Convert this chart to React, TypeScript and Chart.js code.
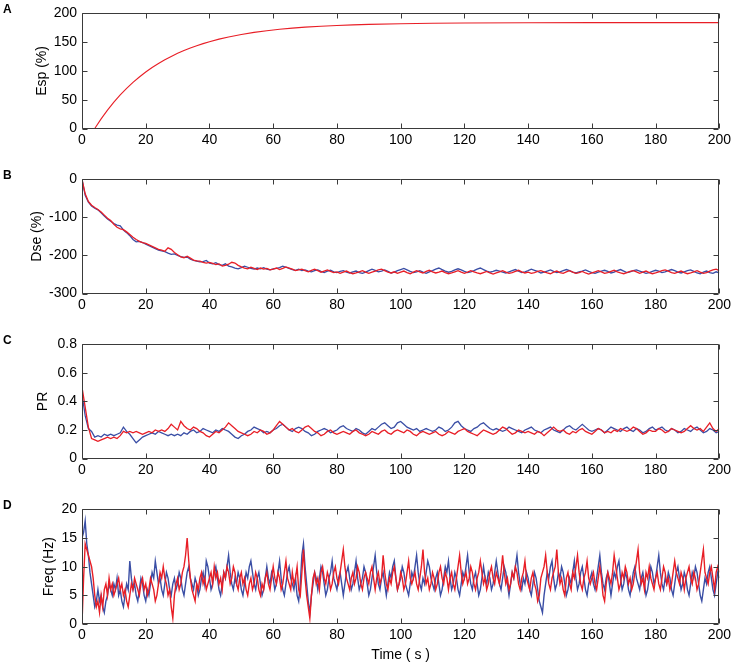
import React, { useEffect, useRef } from "react";
import { Chart, registerables } from "chart.js";

Chart.register(...registerables);

// ---------------- data ----------------
const TIME_TICKS = [0, 20, 40, 60, 80, 100, 120, 140, 160, 180, 200];
const TIME = Array.from({ length: 201 }, (_, i) => i);
const TIME_HALF = Array.from({ length: 401 }, (_, i) => i / 2);

// Panel A: Esp (%)
const ESP_T = [4, 6, 8, 10, 12, 14, 16, 18, 20, 22, 24, 26, 28, 30, 32, 34, 36, 38, 40, 43, 46, 50, 54, 58, 62, 66, 70, 75, 80, 85, 90, 100, 110, 120, 140, 160, 180, 200];
const ESP_RED = [0, 16.7, 31.9, 45.7, 58.3, 69.7, 80.1, 89.5, 98.1, 105.9, 113.0, 119.5, 125.3, 130.7, 135.5, 139.9, 143.9, 147.5, 150.9, 155.3, 159.1, 163.4, 167.0, 169.9, 172.4, 174.4, 176.1, 177.7, 179.1, 180.1, 180.9, 182.1, 182.8, 183.3, 183.7, 183.9, 184.0, 184.0];

// Panel B: Dse (%)
const DSE_BLUE = [
  0, -42, -60, -70, -76, -80, -88, -96, -104, -110,
  -116, -120, -122, -133, -140, -148, -158, -164, -163, -166,
  -170, -174, -178, -182, -186, -188, -190, -194, -197, -196,
  -200, -203, -205, -204, -210, -213, -215, -217, -216, -213,
  -220, -222, -219, -224, -226, -222, -228, -230, -233, -235,
  -232, -228, -231, -234, -236, -233, -235, -232, -236, -238,
  -235, -234, -232, -228, -231, -234, -237, -239, -236, -240,
  -238, -241, -243, -240, -238, -242, -245, -241, -239, -243,
  -245, -242, -240, -244, -246, -243, -241, -245, -247, -244,
  -240, -236, -239, -243, -241, -238, -242, -246, -244, -240,
  -237, -234, -238, -242, -245, -243, -240, -244, -247, -243,
  -240, -236, -233, -237, -241, -244, -242, -238, -235, -238,
  -242, -245, -243, -240, -236, -233, -237, -241, -244, -242,
  -239, -241, -244, -246, -243, -240, -237, -241, -245, -243,
  -240, -236, -239, -242, -246, -244, -241, -238, -242, -245,
  -243, -240, -237, -240, -244, -246, -243, -241, -238, -242,
  -245, -247, -244, -241, -239, -242, -246, -244, -240, -237,
  -241, -245, -243, -240, -238, -241, -244, -247, -245, -242,
  -239, -241, -245, -243, -240, -237, -240, -244, -246, -243,
  -240, -238, -242, -246, -248, -244, -241, -245, -247, -243,
  -246,
];
const DSE_RED = [
  0, -38, -58, -68, -74, -79, -86, -94, -102, -108,
  -118, -126, -130, -132, -138, -145, -152, -158, -163, -166,
  -168, -172, -176, -180, -184, -186, -189, -180, -184, -192,
  -198, -204, -206, -202, -207, -212, -214, -215, -218, -220,
  -218, -221, -224, -222, -228, -226, -223, -218, -220, -226,
  -230, -233, -235, -231, -234, -237, -233, -236, -234, -238,
  -236, -233, -237, -234, -230, -233, -236, -240, -238, -236,
  -240, -243, -239, -236, -240, -244, -241, -238, -242, -245,
  -243, -247, -244, -241, -245, -248, -246, -243, -240, -244,
  -247, -244, -241, -238, -236, -240, -244, -246, -243, -247,
  -244, -241, -245, -248, -244, -240, -243, -246, -242, -239,
  -243, -246, -244, -241, -245, -248, -246, -243, -240, -244,
  -247, -244, -240, -243, -246, -248, -245, -242, -246, -249,
  -246, -243, -240, -244, -247, -245, -242, -239, -243, -246,
  -244, -247, -245, -242, -240, -243, -246, -248, -244, -241,
  -245, -247, -243, -240, -244, -247, -245, -242, -246, -249,
  -246, -243, -240, -243, -247, -245, -242, -239, -243, -246,
  -248, -245, -242, -240, -243, -247, -244, -241, -245, -248,
  -246, -243, -240, -238, -241, -245, -247, -244, -241, -245,
  -248, -246, -243, -240, -244, -247, -245, -241, -238, -236,
  -240,
];

// Panel C: PR
const PR_BLUE = [
  0.45, 0.30, 0.21, 0.19, 0.15, 0.16, 0.15, 0.17, 0.16, 0.17,
  0.16, 0.17, 0.18, 0.22, 0.19, 0.17, 0.14, 0.11, 0.13, 0.15,
  0.16, 0.17, 0.18, 0.17, 0.19, 0.18, 0.17, 0.16, 0.17, 0.16,
  0.17, 0.16, 0.18, 0.17, 0.19, 0.20, 0.18, 0.19, 0.21, 0.20,
  0.19, 0.18, 0.20, 0.19, 0.21, 0.20, 0.19, 0.17, 0.15, 0.14,
  0.16, 0.17, 0.19, 0.20, 0.22, 0.21, 0.20, 0.18, 0.19, 0.18,
  0.20, 0.21, 0.23, 0.24, 0.22, 0.20, 0.19, 0.21, 0.22, 0.21,
  0.19, 0.18, 0.16, 0.17, 0.19, 0.20, 0.21, 0.20, 0.18, 0.19,
  0.20, 0.22, 0.23, 0.21, 0.20, 0.19, 0.21, 0.20, 0.18, 0.17,
  0.19, 0.21, 0.20, 0.22, 0.24, 0.25, 0.23, 0.21, 0.22, 0.25,
  0.26, 0.24, 0.22, 0.21, 0.20, 0.21, 0.19, 0.20, 0.21, 0.20,
  0.19, 0.20, 0.22, 0.21, 0.19, 0.20, 0.22, 0.25, 0.26, 0.23,
  0.21, 0.20, 0.19, 0.21, 0.22, 0.24, 0.25, 0.23, 0.21, 0.20,
  0.21, 0.20, 0.19, 0.20, 0.22, 0.21, 0.20, 0.19, 0.18, 0.20,
  0.21, 0.22, 0.20, 0.19, 0.18, 0.20, 0.21, 0.22, 0.20, 0.19,
  0.18, 0.20, 0.22, 0.23, 0.21, 0.20, 0.22, 0.24, 0.22, 0.20,
  0.19, 0.20, 0.21, 0.20, 0.18, 0.20, 0.22, 0.21, 0.20, 0.19,
  0.21, 0.22, 0.20, 0.19, 0.21, 0.20, 0.18, 0.19, 0.21, 0.22,
  0.20, 0.21, 0.22, 0.20, 0.19, 0.21, 0.20, 0.18, 0.19, 0.21,
  0.20, 0.19, 0.21, 0.22, 0.20, 0.18, 0.19, 0.21, 0.20, 0.18,
  0.19,
];
const PR_RED = [
  0.50, 0.36, 0.22, 0.14, 0.13, 0.12, 0.13, 0.14, 0.15, 0.14,
  0.15, 0.14, 0.16, 0.19, 0.18, 0.19, 0.18, 0.19, 0.18, 0.17,
  0.18, 0.19, 0.18, 0.20, 0.19, 0.20, 0.19, 0.21, 0.24, 0.22,
  0.20, 0.26, 0.23, 0.21, 0.20, 0.22, 0.21, 0.19, 0.18, 0.16,
  0.15, 0.17, 0.19, 0.18, 0.20, 0.22, 0.25, 0.23, 0.21, 0.19,
  0.18, 0.17, 0.16, 0.17, 0.19, 0.18, 0.20, 0.19, 0.17, 0.18,
  0.20, 0.23, 0.26, 0.24, 0.22, 0.20, 0.21, 0.19, 0.18, 0.20,
  0.22, 0.23, 0.21, 0.19, 0.18, 0.16, 0.17, 0.19, 0.20, 0.18,
  0.17, 0.18, 0.19, 0.18, 0.17, 0.19, 0.20, 0.18, 0.17, 0.16,
  0.17, 0.19, 0.18, 0.17, 0.19, 0.20, 0.18, 0.17, 0.19, 0.20,
  0.19, 0.18, 0.20, 0.19, 0.17, 0.16, 0.18, 0.19, 0.18, 0.17,
  0.18, 0.19, 0.17, 0.16, 0.17, 0.19, 0.18, 0.17, 0.19, 0.20,
  0.21, 0.19, 0.18, 0.17, 0.16, 0.18, 0.20, 0.19, 0.18, 0.17,
  0.18, 0.20, 0.22, 0.21, 0.19, 0.17, 0.18, 0.20, 0.19, 0.18,
  0.19, 0.18, 0.17, 0.19, 0.18, 0.16, 0.18, 0.20, 0.22, 0.20,
  0.19, 0.20, 0.18, 0.17, 0.19, 0.18, 0.20, 0.21, 0.19, 0.18,
  0.17, 0.19, 0.21, 0.20, 0.18, 0.19, 0.18, 0.20, 0.19, 0.21,
  0.20, 0.19, 0.20, 0.22, 0.21, 0.19, 0.17, 0.18, 0.20, 0.19,
  0.19, 0.21, 0.20, 0.18, 0.19, 0.21, 0.20, 0.19, 0.18, 0.19,
  0.21, 0.23, 0.21, 0.20, 0.21, 0.19, 0.22, 0.25, 0.21, 0.19,
  0.21,
];

// Panel D: Freq (Hz), sampled every 0.5 s
const FREQ_BLUE = [
  15, 16, 18, 14, 12, 9, 7, 5, 3, 4, 6, 4, 5, 3, 2, 4, 5, 7, 6, 5,
  7, 6, 8, 5, 6, 4, 3, 5, 7, 6, 11, 8, 6, 7, 5, 4, 6, 8, 7, 5,
  4, 6, 5, 7, 9, 8, 11, 9, 7, 8, 6, 5, 7, 9, 8, 6, 5, 7, 8, 6,
  7, 9, 8, 6, 5, 7, 9, 10, 8, 7, 6, 8, 7, 5, 6, 8, 9, 7, 11, 10,
  8, 6, 7, 9, 10, 8, 6, 5, 7, 9, 8, 10, 12, 9, 7, 6, 8, 7, 9, 8,
  6, 5, 7, 9, 8, 10, 11, 9, 7, 6, 8, 9, 7, 5, 6, 8, 10, 8, 7, 9,
  8, 6, 7, 9, 11, 8, 6, 5, 7, 9, 10, 8, 7, 6, 8, 5, 4, 7, 12, 14,
  10, 7, 4, 2, 5, 7, 9, 8, 6, 8, 10, 9, 7, 5, 6, 8, 9, 11, 8, 7,
  6, 8, 9, 7, 5, 7, 9, 10, 8, 6, 7, 9, 11, 8, 6, 7, 8, 10, 9, 7,
  5, 6, 8, 10, 12, 9, 7, 6, 8, 9, 7, 5, 7, 9, 8, 10, 11, 8, 6, 7,
  8, 10, 9, 7, 6, 5, 7, 9, 8, 10, 12, 9, 7, 6, 8, 7, 9, 11, 10, 8,
  7, 6, 8, 9, 7, 5, 6, 8, 10, 9, 11, 8, 6, 7, 9, 8, 6, 5, 7, 9,
  8, 10, 12, 9, 7, 6, 8, 9, 7, 5, 6, 8, 10, 8, 7, 9, 8, 6, 7, 9,
  11, 9, 7, 6, 8, 10, 9, 7, 5, 7, 9, 8, 10, 12, 9, 7, 6, 8, 7, 9,
  8, 6, 5, 7, 9, 8, 6, 4, 3, 2, 5, 7, 9, 8, 10, 11, 8, 6, 7, 9,
  8, 10, 9, 7, 5, 6, 8, 7, 9, 11, 8, 6, 7, 9, 10, 8, 6, 5, 7, 8,
  9, 7, 6, 8, 10, 12, 9, 7, 6, 8, 9, 7, 5, 7, 9, 8, 10, 11, 8, 6,
  7, 9, 8, 6, 5, 7, 9, 10, 8, 7, 6, 8, 9, 7, 5, 6, 8, 10, 9, 7,
  8, 10, 12, 9, 7, 6, 8, 7, 9, 8, 6, 5, 7, 9, 10, 8, 6, 7, 9, 8,
  6, 5, 7, 9, 8, 10, 9, 7, 5, 4, 6, 8, 7, 9, 10, 8, 6, 5, 7, 9,
  8,
];
const FREQ_RED = [
  0, 8, 14, 13, 12, 11, 10, 8, 5, 3, 4, 2, 5, 3, 6, 7, 5, 8, 6, 7,
  5, 6, 7, 8, 6, 7, 5, 6, 4, 3, 5, 7, 6, 8, 7, 6, 5, 7, 8, 6,
  7, 5, 6, 8, 7, 6, 4, 5, 7, 9, 8, 10, 8, 7, 5, 6, 3, 1, 5, 7,
  8, 6, 7, 9, 10, 12, 15, 11, 8, 6, 5, 4, 7, 6, 8, 9, 7, 8, 6, 7,
  8, 9, 7, 10, 8, 9, 7, 8, 6, 9, 8, 10, 9, 7, 8, 10, 9, 7, 6, 8,
  9, 7, 8, 6, 5, 7, 8, 6, 7, 9, 8, 6, 5, 7, 6, 8, 9, 7, 6, 8,
  10, 8, 7, 9, 8, 6, 7, 9, 11, 8, 7, 6, 9, 7, 8, 10, 6, 5, 9, 13,
  8, 5, 3, 1, 5, 8, 9, 7, 8, 6, 9, 10, 8, 7, 9, 8, 6, 7, 9, 10,
  8, 7, 9, 11, 13, 10, 8, 7, 6, 8, 9, 7, 8, 10, 9, 7, 6, 8, 9, 8,
  7, 9, 10, 8, 6, 8, 9, 7, 8, 12, 9, 7, 6, 8, 7, 9, 10, 8, 6, 7,
  9, 8, 6, 7, 9, 11, 8, 7, 8, 9, 7, 6, 8, 10, 13, 9, 7, 8, 6, 7,
  9, 8, 6, 7, 9, 10, 8, 7, 9, 8, 6, 8, 9, 7, 6, 8, 10, 12, 9, 7,
  8, 9, 7, 8, 10, 9, 7, 6, 8, 9, 11, 9, 7, 8, 6, 7, 9, 10, 8, 7,
  9, 8, 7, 9, 12, 9, 7, 8, 6, 7, 9, 8, 10, 9, 7, 6, 8, 9, 11, 8,
  7, 6, 8, 9, 7, 6, 4, 5, 8, 9, 10, 12, 9, 7, 6, 8, 9, 10, 13, 9,
  7, 8, 6, 5, 8, 9, 7, 6, 9, 8, 10, 12, 9, 7, 6, 8, 9, 11, 8, 7,
  8, 9, 7, 6, 8, 10, 8, 5, 4, 7, 9, 8, 7, 9, 12, 10, 8, 6, 7, 9,
  8, 10, 9, 7, 8, 6, 7, 9, 11, 13, 9, 7, 8, 6, 9, 8, 10, 8, 7, 6,
  8, 9, 7, 6, 8, 10, 9, 7, 8, 6, 7, 9, 11, 9, 8, 7, 9, 8, 6, 8,
  9, 10, 8, 7, 9, 8, 6, 7, 9, 11, 13, 9, 8, 7, 9, 10, 8, 6, 9, 10,
  9,
];

// ---------------- styling ----------------
const BLUE = "rgb(58,78,165)";
const RED = "rgb(232,30,38)";
const BOX = "#3a3a3a";
const FONT = "'Liberation Sans', Arial, Helvetica, sans-serif";

type PanelCfg = {
  letter: string;
  yTitle: string;
  yMin: number;
  yMax: number;
  yStep: number;
  canvasTop: number;
  canvasHeight: number;
  padTop: number;
  xH: number;
  titleCenter: number;
  lineWidth: number;
  xTitle?: string;
  series: { t: number[]; v: number[]; color: string }[];
};

const PANELS: PanelCfg[] = [
  {
    letter: "A", yTitle: "Esp (%)", yMin: 0, yMax: 200, yStep: 50,
    canvasTop: 0, canvasHeight: 160, padTop: 12, xH: 31.5, titleCenter: 42, lineWidth: 1.1,
    series: [{ t: ESP_T, v: ESP_RED, color: RED }],
  },
  {
    letter: "B", yTitle: "Dse (%)", yMin: -300, yMax: 0, yStep: 100,
    canvasTop: 166, canvasHeight: 160, padTop: 12, xH: 32.5, titleCenter: 37.5, lineWidth: 1.3,
    series: [{ t: TIME, v: DSE_RED, color: RED }, { t: TIME, v: DSE_BLUE, color: BLUE }],
  },
  {
    letter: "C", yTitle: "PR", yMin: 0, yMax: 0.8, yStep: 0.2,
    canvasTop: 331, canvasHeight: 160, padTop: 11.5, xH: 32.5, titleCenter: 43, lineWidth: 1.3,
    series: [{ t: TIME, v: PR_RED, color: RED }, { t: TIME, v: PR_BLUE, color: BLUE }],
  },
  {
    letter: "D", yTitle: "Freq (Hz)", yMin: 0, yMax: 20, yStep: 5,
    canvasTop: 496, canvasHeight: 168, padTop: 11.5, xH: 40, titleCenter: 49, lineWidth: 1.4,
    xTitle: "Time ( s )",
    series: [{ t: TIME_HALF, v: FREQ_RED, color: RED }, { t: TIME_HALF, v: FREQ_BLUE, color: BLUE }],
  },
];

const PLOT_LEFT = 82;
const PLOT_RIGHT = 720.5;
const WIDTH = 734;

const boxPlugin = {
  id: "matlabBox",
  afterDatasetsDraw(chart: any) {
    const { ctx, chartArea: a, scales } = chart;
    const L = Math.round(a.left) + 0.5;
    const R = Math.round(a.right) - 0.5;
    const T = Math.round(a.top) + 0.5;
    const B = Math.round(a.bottom) - 0.5;
    const len = 5;
    ctx.save();
    ctx.strokeStyle = BOX;
    ctx.lineWidth = 1;
    ctx.beginPath();
    ctx.rect(L, T, R - L, B - T);
    for (const tk of scales.x.ticks) {
      const px = Math.round(scales.x.getPixelForValue(tk.value)) + 0.5;
      ctx.moveTo(px, B);
      ctx.lineTo(px, B - len);
      ctx.moveTo(px, T);
      ctx.lineTo(px, T + len);
    }
    for (const tk of scales.y.ticks) {
      const py = Math.round(scales.y.getPixelForValue(tk.value)) + 0.5;
      ctx.moveTo(L, py);
      ctx.lineTo(L + len, py);
      ctx.moveTo(R, py);
      ctx.lineTo(R - len, py);
    }
    ctx.stroke();
    ctx.restore();
  },
};

function Panel({ cfg }: { cfg: PanelCfg }) {
  const ref = useRef<HTMLCanvasElement | null>(null);
  useEffect(() => {
    if (!ref.current) return;
    const padLeft = cfg.titleCenter - 8.4;
    const chart = new Chart(ref.current, {
      type: "line",
      data: {
        datasets: cfg.series.map((s) => ({
          data: s.t.map((t, i) => ({ x: t, y: s.v[i] })),
          borderColor: s.color,
          borderWidth: cfg.lineWidth,
          pointRadius: 0,
          tension: 0,
          fill: false,
        })),
      },
      options: {
        responsive: false,
        animation: false,
        events: [],
        layout: { padding: { top: cfg.padTop, left: padLeft, right: WIDTH - PLOT_RIGHT, bottom: 0 } },
        plugins: { legend: { display: false }, tooltip: { enabled: false } },
        scales: {
          x: {
            type: "linear",
            min: 0,
            max: 200,
            afterBuildTicks: (scale: any) => {
              scale.ticks = TIME_TICKS.map((v) => ({ value: v }));
            },
            ticks: { color: "#000", padding: 3, font: { family: FONT, size: 14 }, maxRotation: 0, autoSkip: false },
            grid: { display: false, drawTicks: false },
            border: { display: false },
            title: cfg.xTitle
              ? { display: true, text: cfg.xTitle, color: "#000", font: { family: FONT, size: 14 }, padding: { top: 0, bottom: 0.6 } }
              : { display: false },
            afterFit: (scale: any) => {
              scale.height = cfg.xH;
            },
          },
          y: {
            type: "linear",
            min: cfg.yMin,
            max: cfg.yMax,
            ticks: { stepSize: cfg.yStep, color: "#000", padding: 5, font: { family: FONT, size: 14 } },
            grid: { display: false, drawTicks: false },
            border: { display: false },
            title: { display: true, text: cfg.yTitle, color: "#000", font: { family: FONT, size: 14 }, padding: 0 },
            afterFit: (scale: any) => {
              scale.width = PLOT_LEFT - padLeft;
            },
          },
        },
      },
      plugins: [boxPlugin],
    } as any);
    return () => chart.destroy();
  }, [cfg]);
  return (
    <canvas
      ref={ref}
      width={WIDTH}
      height={cfg.canvasHeight}
      style={{ position: "absolute", left: 0, top: cfg.canvasTop, width: WIDTH, height: cfg.canvasHeight }}
    />
  );
}

export default function App() {
  return (
    <div style={{ position: "fixed", left: 0, top: 0, width: WIDTH, height: 664, background: "#fff", overflow: "hidden" }}>
      {PANELS.map((p) => (
        <React.Fragment key={p.letter}>
          <Panel cfg={p} />
          <div
            style={{
              position: "absolute",
              left: 3,
              top: p.canvasTop + p.padTop - 9,
              font: `bold 12px ${FONT}`,
              lineHeight: "12px",
              color: "#000",
            }}
          >
            {p.letter}
          </div>
        </React.Fragment>
      ))}
    </div>
  );
}
